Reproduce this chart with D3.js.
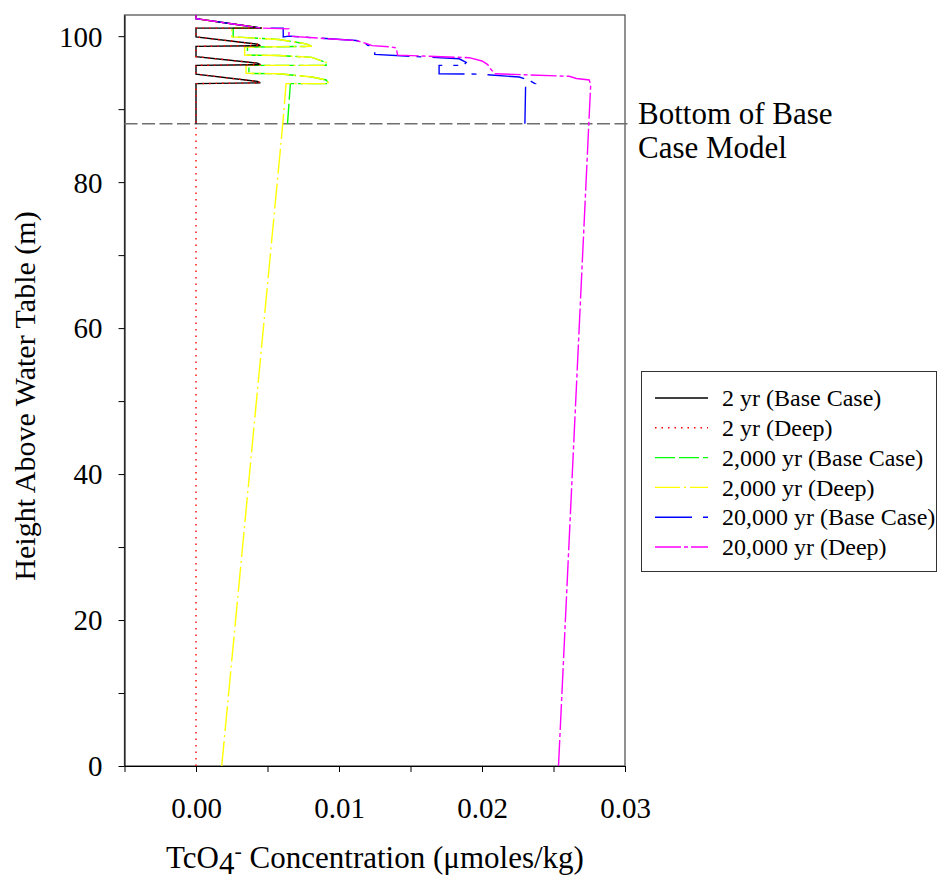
<!DOCTYPE html>
<html><head><meta charset="utf-8">
<script src="https://cdn.jsdelivr.net/npm/d3@7"></script>
<style>
body{margin:0;background:#fff;}
text{font-family:"Liberation Serif","Times New Roman",serif;fill:#000;}
</style></head>
<body><svg id="c" width="938" height="884"></svg>
<script>
// ---- data: [concentration (umoles/kg), height above water table (m)] ----
const seriesNames = ["2 yr (Base Case)","2 yr (Deep)","2,000 yr (Base Case)","2,000 yr (Deep)","20,000 yr (Base Case)","20,000 yr (Deep)"];
const xTicks = [0.00, 0.01, 0.02, 0.03];
const xMinorTicks = [-0.005, 0.005, 0.015, 0.025];
const yTicks = [0, 20, 40, 60, 80, 100];
const yMinorTicks = [10, 30, 50, 70, 90];
const baseBottom = 88;

const yr2Base = [[0,88],[0,93.5],[0.0045,93.6],[0.0043,93.8],[0,94.8],[0,96.0],[0.0045,96.1],[0.0043,96.3],[0,97.2],[0,98.6],[0.0045,98.7],[0.0043,98.9],[0,99.9],[0,101.1],[0.0046,101.1],[0,102.4],[0,102.9]];
const yr2Deep = [[0,0],[0,93.5],[0.0045,93.6],[0.0043,93.8],[0,94.8],[0,96.0],[0.0045,96.1],[0.0043,96.3],[0,97.2],[0,98.6],[0.0045,98.7],[0.0043,98.9],[0,99.9],[0,101.1],[0.0046,101.1],[0,102.4],[0,102.9]];
const yr2000Base = [[0.0064,88],[0.0066,93.5],[0.0093,93.5],[0.0091,94.0],[0.0081,94.4],[0.0058,94.85],[0.0037,94.9],[0.0037,96.0],[0.0091,96.0],[0.0091,96.4],[0.0081,97.1],[0.0058,97.35],[0.0036,97.4],[0.0036,98.5],[0.0081,98.6],[0.0077,98.95],[0.0058,99.55],[0.0026,99.9],[0.0026,101.1],[0.0046,101.1],[0,102.4],[0,102.9]];
const yr2000Deep = [[0.0018,0],[0.00607,88],[0.0063,93.5],[0.0093,93.5],[0.0091,94.0],[0.0081,94.4],[0.0058,94.85],[0.0035,94.9],[0.0035,96.0],[0.0091,96.0],[0.0091,96.4],[0.0081,97.1],[0.0058,97.35],[0.0034,97.4],[0.0034,98.5],[0.0081,98.6],[0.0077,98.95],[0.0058,99.55],[0.0025,99.9],[0.0025,101.1],[0.0046,101.1],[0,102.4],[0,102.9]];
const yr20000Base = [[0.02300,88],[0.02305,93.3],[0.0237,93.5],[0.0233,93.97],[0.0226,94.4],[0.0198,94.8],[0.0170,94.85],[0.0170,96.0],[0.0187,96.0],[0.0189,96.4],[0.0184,96.9],[0.0125,97.5],[0.0125,98.6],[0.0120,98.75],[0.0118,99.1],[0.0112,99.4],[0.0065,100.0],[0.0061,99.9],[0.0061,101.1],[0.0046,101.1],[0,102.4],[0,102.9]];
const yr20000Deep = [[0.02535,0],[0.02747,88],[0.0276,93.3],[0.0275,94.0],[0.0266,94.2],[0.0261,94.5],[0.0209,94.85],[0.0206,95.5],[0.0204,96.1],[0.0200,96.6],[0.0191,97.05],[0.0141,97.4],[0.0140,98.4],[0.0135,98.55],[0.0123,98.7],[0.0120,98.95],[0.0112,99.4],[0.0065,100.0],[0.0065,101.0],[0.0046,101.1],[0,102.4],[0,102.9]];

const seriesData = [yr2Base, yr2Deep, yr2000Base, yr2000Deep, yr20000Base, yr20000Deep];
const colors = ["#000000","#ff0000","#00ff00","#ffff00","#0000ff","#ff00ff"];
const dashes = [null,"1.5,5","20,4,20,4,5,4","25,4,2,4","37,11,5,7","26,3,4,3"];

const svg = d3.select("#c");
const L = 124.5, R = 625, T = 15, B = 766;
const x = d3.scaleLinear().domain([-0.005, 0.03]).range([L, R]);
const y = d3.scaleLinear().domain([0, 102.9]).range([B, T]);

// frame
svg.append("rect").attr("x",L).attr("y",T).attr("width",R-L).attr("height",B-T)
  .attr("fill","none").attr("stroke","#555").attr("stroke-width",1.3);

// axes
const fmt = d3.format(".2f");
const xAxis = svg.append("g").attr("transform",`translate(0,${B})`)
  .call(d3.axisBottom(x).tickValues(xTicks.concat(xMinorTicks)).tickSize(6).tickSizeOuter(0)
    .tickFormat(d => xTicks.includes(d) ? fmt(d) : ""));
xAxis.selectAll("text").attr("font-size",29).attr("dy",null).attr("y",52);
const yAxis = svg.append("g").attr("transform",`translate(${L},0)`)
  .call(d3.axisLeft(y).tickValues(yTicks.concat(yMinorTicks)).tickSize(6).tickSizeOuter(0)
    .tickFormat(d => yTicks.includes(d) ? d : ""));
yAxis.selectAll("text").attr("font-size",29).attr("x",-22).attr("dy","0.34em");
svg.selectAll(".domain").attr("stroke","#000");
svg.selectAll(".tick line").attr("stroke","#000");

// clip
svg.append("clipPath").attr("id","cp").append("rect").attr("x",L).attr("y",T).attr("width",R-L).attr("height",B-T);

// bottom of base case model line
svg.append("line").attr("x1",L).attr("x2",R+3).attr("y1",y(baseBottom)).attr("y2",y(baseBottom))
  .attr("stroke","#6e6e6e").attr("stroke-width",1.6).attr("stroke-dasharray","13,4.5");

// series
const line = d3.line().x(d => x(d[0])).y(d => y(d[1]));
const g = svg.append("g").attr("clip-path","url(#cp)");
const order = [2,3,0,1,4,5];
order.forEach(i => {
  g.append("path").attr("d", line(seriesData[i])).attr("fill","none")
    .attr("stroke", colors[i]).attr("stroke-width", 1.4)
    .attr("stroke-dasharray", dashes[i]);
});

// annotation
svg.append("text").attr("x",638).attr("y",124).attr("font-size",31).text("Bottom of Base");
svg.append("text").attr("x",638).attr("y",158).attr("font-size",31).text("Case Model");

// legend
svg.append("rect").attr("x",641.5).attr("y",371.5).attr("width",295).attr("height",200)
  .attr("fill","#fff").attr("stroke","#333").attr("stroke-width",1);
seriesNames.forEach((n,i) => {
  const yy = 398 + i*29.8;
  svg.append("line").attr("x1",655).attr("x2",708).attr("y1",yy).attr("y2",yy)
    .attr("stroke",colors[i]).attr("stroke-width",1.4).attr("stroke-dasharray",dashes[i]);
  svg.append("text").attr("x",722).attr("y",yy).attr("dy","0.34em").attr("font-size",24).text(n);
});

// axis titles
const xt = svg.append("text").attr("x",375).attr("y",868).attr("text-anchor","middle").attr("font-size",31);
xt.append("tspan").text("TcO");
xt.append("tspan").attr("dy",6).text("4");
xt.append("tspan").attr("dy",-16).attr("font-size",22).text("-");
xt.append("tspan").attr("dy",10).text(" Concentration (\u03bcmoles/kg)");
svg.append("text").attr("transform","translate(35,396) rotate(-90)").attr("text-anchor","middle")
  .attr("font-size",30).text("Height Above Water Table (m)");
</script></body></html>
